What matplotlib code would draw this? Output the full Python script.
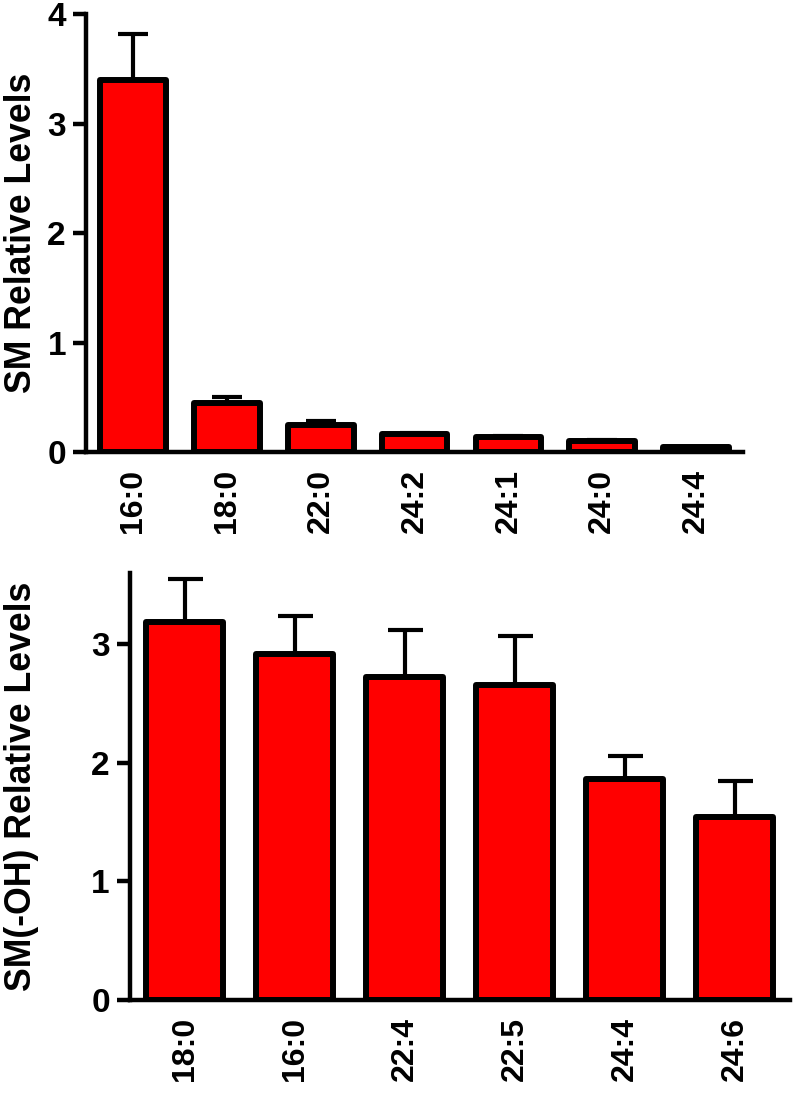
import numpy as np
import matplotlib
matplotlib.use('Agg')
import matplotlib.pyplot as plt

plt.rcParams['font.family'] = ['Liberation Sans', 'DejaVu Sans']
plt.rcParams['font.weight'] = 'bold'

# top panel: SM species
sm_labels = ['16:0', '18:0', '22:0', '24:2', '24:1', '24:0', '24:4']
sm_vals = [3.40, 0.45, 0.25, 0.165, 0.14, 0.10, 0.045]
sm_err = [0.42, 0.05, 0.03, 0.01, 0.01, 0.01, 0.005]

# bottom panel: SM(-OH) species
oh_labels = ['18:0', '16:0', '22:4', '22:5', '24:4', '24:6']
oh_vals = [3.19, 2.92, 2.72, 2.66, 1.86, 1.54]
oh_err = [0.36, 0.32, 0.40, 0.41, 0.20, 0.31]

fig = plt.figure(figsize=(7.93, 10.99), dpi=100)
ax1 = fig.add_axes([0.1085, 0.5887, 0.8285, 0.3985])
ax2 = fig.add_axes([0.1639, 0.0901, 0.8323, 0.3885])

def panel(ax, labels, vals, err, ylim, ylab, cap, labx):
    x = np.arange(len(labels))
    ax.errorbar(x, vals, yerr=[np.zeros(len(err)), err], fmt='none', ecolor='k',
                elinewidth=3, capsize=cap, capthick=3, zorder=1)
    bars = ax.bar(x, vals, width=0.7, color='#ff0000', edgecolor='k', linewidth=4.3, zorder=2)
    for b in bars:
        b.set_joinstyle('round')
    ax.set_xlim(-0.5, len(labels) - 0.5)
    ax.set_ylim(*ylim)
    ax.set_yticks(range(int(ylim[1]) + 1))
    ax.set_xticks(x)
    ax.set_xticklabels(labels, rotation=90)
    for s in ['top', 'right']:
        ax.spines[s].set_visible(False)
    for s in ['left', 'bottom']:
        ax.spines[s].set_linewidth(3.2)
    ax.tick_params(axis='y', length=9.5, width=3.2, labelsize=24, pad=5)
    ax.tick_params(axis='x', length=0, labelsize=23, pad=12)
    ax.set_ylabel(ylab, fontsize=25.7, fontweight='bold')
    ax.yaxis.set_label_coords(labx, 0.5)

panel(ax1, sm_labels, sm_vals, sm_err, (0, 4), 'SM Relative Levels', 11, -0.0715)
panel(ax2, oh_labels, oh_vals, oh_err, (0, 3.6), 'SM(-OH) Relative Levels', 12.6, -0.138)

fig.savefig('out.png', dpi=100)
